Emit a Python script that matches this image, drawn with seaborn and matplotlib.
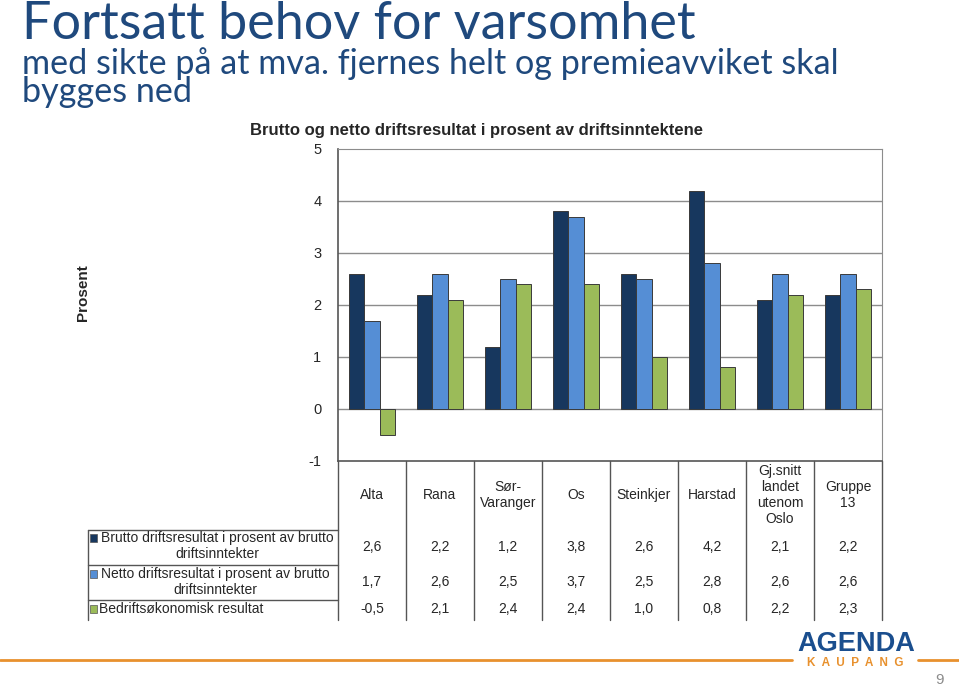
import seaborn as sns
import matplotlib.pyplot as plt
import matplotlib.transforms as mtransforms
import pandas as pd

# Data
categories = ['Alta', 'Rana', 'Sør-Varanger', 'Os', 'Steinkjer', 'Harstad',
              'Gj.snitt landet utenom Oslo', 'Gruppe 13']
header_labels = ['Alta', 'Rana', 'Sør-\nVaranger', 'Os', 'Steinkjer', 'Harstad',
                 'Gj.snitt\nlandet\nutenom\nOslo', 'Gruppe\n13']
series = ['Brutto driftsresultat i prosent av brutto driftsinntekter',
          'Netto driftsresultat i prosent av brutto driftsinntekter',
          'Bedriftsøkonomisk resultat']
row_labels = ['Brutto driftsresultat i prosent av brutto\ndriftsinntekter',
              'Netto driftsresultat i prosent av brutto\ndriftsinntekter',
              'Bedriftsøkonomisk resultat']
brutto = [2.6, 2.2, 1.2, 3.8, 2.6, 4.2, 2.1, 2.2]
netto = [1.7, 2.6, 2.5, 3.7, 2.5, 2.8, 2.6, 2.6]
bedrift = [-0.5, 2.1, 2.4, 2.4, 1.0, 0.8, 2.2, 2.3]
colors = ['#17375E', '#558ED5', '#9BBB59']

df = pd.DataFrame({
    'Kategori': categories * 3,
    'Serie': [s for s in series for _ in categories],
    'Verdi': brutto + netto + bedrift,
})

W, H = 959, 686
fig = plt.figure(figsize=(W / 100, H / 100), dpi=100)
sns.set_style('white')
plt.rcParams['font.family'] = ['Liberation Sans', 'DejaVu Sans']


def fx(px):
    return px / W


def fy(py):
    return 1 - py / H


ax = fig.add_axes([fx(338), fy(461), fx(882) - fx(338), fy(149) - fy(461)])
sns.barplot(data=df, x='Kategori', y='Verdi', hue='Serie', order=categories,
            hue_order=series, palette=colors, width=0.69, gap=0,
            edgecolor='#3a3a3a', linewidth=0.7, saturation=1, legend=False, ax=ax,
            zorder=3)

ax.set_ylim(-1, 5)
ax.set_xlim(-0.5, len(categories) - 0.5)
ax.set_yticks(range(-1, 6))
ax.set_yticklabels([str(v) for v in range(-1, 6)], fontsize=10.5)
ax.set_xticks([])
ax.set_xlabel('')
ax.set_ylabel('')
for v in range(0, 5):
    ax.axhline(v, color='#8c8c8c', lw=1, zorder=1)
ax.axhline(5, color='#8c8c8c', lw=1.2, zorder=1)
ax.tick_params(axis='y', direction='out', length=6, width=1, color='#555555', pad=6)
for side in ['top', 'right']:
    ax.spines[side].set_color('#8c8c8c')
ax.spines['left'].set_color('#555555')
ax.spines['bottom'].set_color('#555555')
ax.spines['left'].set_linewidth(1.2)
ax.spines['bottom'].set_linewidth(1.2)

# Data table under the chart
tr = mtransforms.blended_transform_factory(ax.transData, fig.transFigure)
line_c = '#555555'
for k in range(len(categories) + 1):
    fig.add_artist(plt.Line2D([k - 0.5, k - 0.5], [fy(461), fy(620)], transform=tr,
                              color=line_c, lw=1))
for i, lab in enumerate(header_labels):
    ax.text(i, fy(495), lab, transform=tr, ha='center', va='center', fontsize=10,
            linespacing=1.2)

row_y = [547, 582, 609]
for vals, y in zip([brutto, netto, bedrift], row_y):
    for i, v in enumerate(vals):
        ax.text(i, fy(y), f'{v:.1f}'.replace('.', ','), transform=tr,
                ha='center', va='center', fontsize=10)

# Row labels with legend keys
for y in [530, 565, 600]:
    fig.add_artist(plt.Line2D([fx(88), fx(338)], [fy(y), fy(y)], color=line_c, lw=1))
fig.add_artist(plt.Line2D([fx(88), fx(88)], [fy(530), fy(620)], color=line_c, lw=1))
key_y = [538, 574, 609]
for c, y in zip(colors, key_y):
    fig.add_artist(plt.Rectangle((fx(90), fy(y + 4)), fx(7), fy(0) - fy(8),
                                 facecolor=c, edgecolor='#555555', lw=0.5))
fig.text(fx(217), fy(546), row_labels[0], ha='center', va='center', fontsize=10,
         linespacing=1.1)
fig.text(fx(215), fy(582), row_labels[1], ha='center', va='center', fontsize=10,
         linespacing=1.1)
fig.text(fx(99), fy(609), row_labels[2], ha='left', va='center', fontsize=10)

# Chart title and axis label
fig.text(fx(476), fy(130), 'Brutto og netto driftsresultat i prosent av driftsinntektene',
         ha='center', va='center', fontsize=12, fontweight='bold')
fig.text(fx(83), fy(293), 'Prosent', ha='center', va='center', rotation=90,
         fontsize=11, fontweight='bold')

# Slide title
title_c = '#1F497D'
fig.text(fx(22), fy(39), 'Fortsatt behov for varsomhet', ha='left', va='baseline',
         fontsize=37.5, color=title_c, family=['Lato', 'DejaVu Sans'])
fig.text(fx(22), fy(102), 'med sikte på at mva. fjernes helt og premieavviket skal\nbygges ned',
         ha='left', va='baseline', fontsize=24.6, color=title_c, linespacing=0.85,
         family=['Lato', 'DejaVu Sans'])

# Footer with logo
orange = '#E8912E'
fig.add_artist(plt.Line2D([0, fx(792)], [fy(660), fy(660)], color=orange, lw=2))
fig.add_artist(plt.Line2D([fx(918), 1], [fy(660), fy(660)], color=orange, lw=2))
fig.text(fx(856), fy(651), 'AGENDA', ha='center', va='baseline', fontsize=19.5,
         fontweight='bold', color='#1A4E8E')
fig.text(fx(855), fy(666), 'K  A  U  P  A  N  G', ha='center', va='baseline', fontsize=8.5,
         fontweight='bold', color=orange)
fig.text(fx(940), fy(684), '9', ha='center', va='baseline', fontsize=11, color='#8c8c8c')

fig.savefig('out.png', dpi=100)
